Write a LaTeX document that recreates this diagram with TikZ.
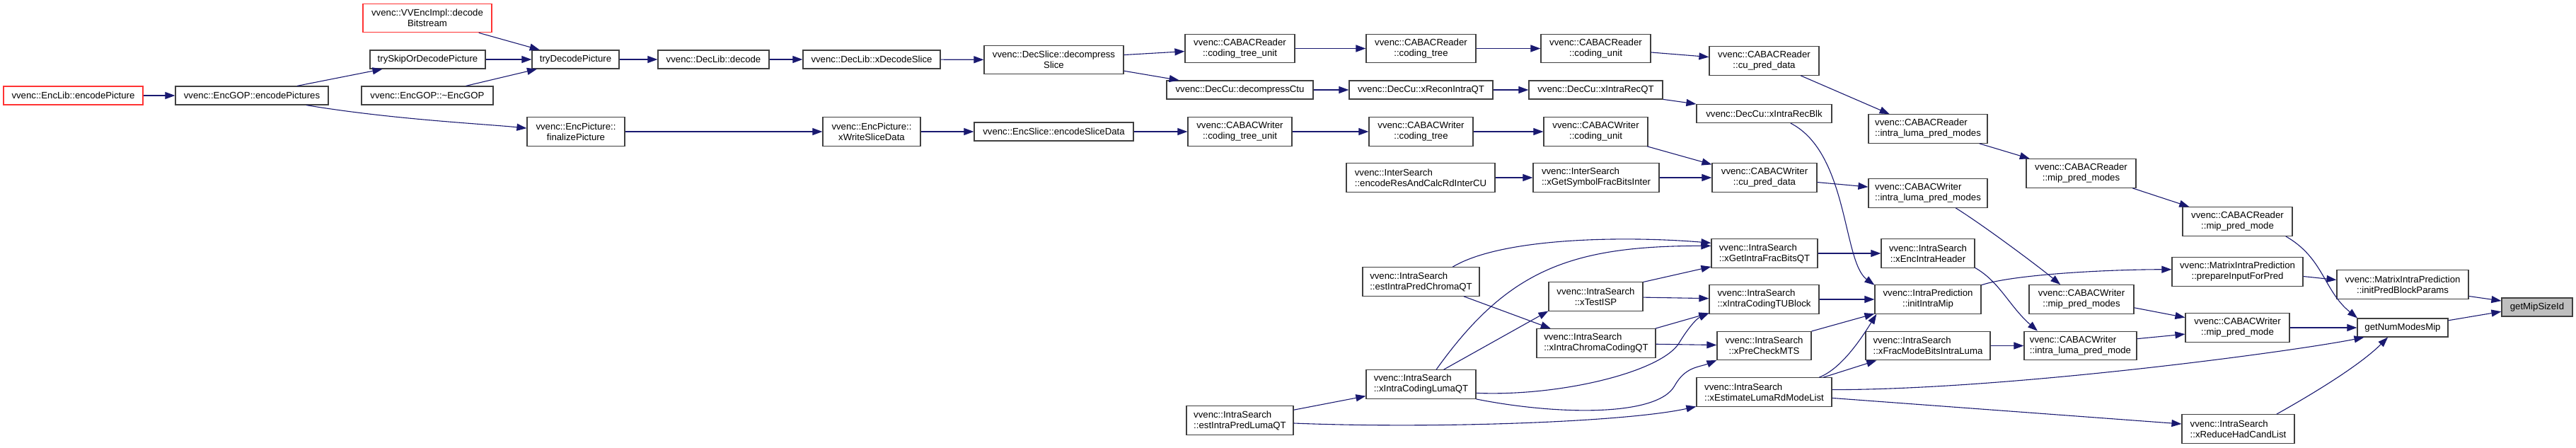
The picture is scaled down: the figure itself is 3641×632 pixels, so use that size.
\documentclass[tikz,border=0pt]{standalone}
\usepackage{fontspec}
\setmainfont{Liberation Sans}
\usepackage{xcolor}
\usepackage{tikz}
\usetikzlibrary{arrows.meta}
\definecolor{CGEdge}{HTML}{191970}
\definecolor{CGLine}{HTML}{404040}
\definecolor{CGRed}{HTML}{FF3333}
\definecolor{CGSel}{HTML}{BFBFBF}
\newcommand{\cgfont}{\fontsize{13.2}{15}\selectfont}

\begin{document}
\begin{tikzpicture}[x=1pt,y=-1pt,
  fn/.style={draw=CGLine,line width=1.2pt,fill=white,inner xsep=2pt,inner ysep=1pt,
    minimum height=26pt,font=\cgfont,align=center},
  fn2/.style={fn,minimum height=40.5pt},
  fnl/.style={fn2,align=left},
  cut/.style={draw=CGRed},
  sel/.style={fill=CGSel},
  call/.style={draw=CGEdge,line width=1.1pt,-{Triangle[length=14pt,width=10pt]}}]
\path[use as bounding box] (0,0) rectangle (3641,632);
\node[fn,cut,minimum width=197pt] (encPic) at (103.5,135) {vvenc::EncLib::encodePicture};
\node[fn,minimum width=216pt] (encPics) at (356,135) {vvenc::EncGOP::encodePictures};
\node[fn2,cut,minimum width=182pt] (decBits) at (604,25.5) {vvenc::VVEncImpl::decode\\Bitstream};
\node[fn,minimum width=163pt] (trySkip) at (604.5,84) {trySkipOrDecodePicture};
\node[fn,minimum width=186pt] (dtorGOP) at (604,135) {vvenc::EncGOP::\textasciitilde EncGOP};
\node[fn,minimum width=123pt] (tryDec) at (813.5,84) {tryDecodePicture};
\node[fn,minimum width=157pt] (decLib) at (1008.5,84) {vvenc::DecLib::decode};
\node[fn,minimum width=194pt] (xDecSlice) at (1232,84) {vvenc::DecLib::xDecodeSlice};
\node[fn2,minimum width=197pt] (decompSlice) at (1489.5,84.5) {vvenc::DecSlice::decompress\\Slice};
\node[fn2,minimum width=155pt] (rdCtu) at (1752.5,68.5) {vvenc::CABACReader\\::coding\_tree\_unit};
\node[fn,minimum width=207pt] (decompCtu) at (1752.5,127) {vvenc::DecCu::decompressCtu};
\node[fn2,minimum width=155pt] (rdTree) at (2008.5,68.5) {vvenc::CABACReader\\::coding\_tree};
\node[fn,minimum width=203pt] (reconQT) at (2008.5,127) {vvenc::DecCu::xReconIntraQT};
\node[fn2,minimum width=155pt] (rdUnit) at (2255.5,68.5) {vvenc::CABACReader\\::coding\_unit};
\node[fn,minimum width=189pt] (recQT) at (2255.5,127) {vvenc::DecCu::xIntraRecQT};
\node[fn2,minimum width=155pt] (rdCuPred) at (2493.5,86) {vvenc::CABACReader\\::cu\_pred\_data};
\node[fn,minimum width=191pt] (recBlk) at (2493.5,160.5) {vvenc::DecCu::xIntraRecBlk};
\node[fnl,minimum width=168pt] (rdLumaModes) at (2725,182) {vvenc::CABACReader\\::intra\_luma\_pred\_modes};
\node[fn2,minimum width=155pt] (rdMipModes) at (2941.5,245) {vvenc::CABACReader\\::mip\_pred\_modes};
\node[fn2,minimum width=155pt] (rdMipMode) at (3162.5,313) {vvenc::CABACReader\\::mip\_pred\_mode};
\node[fn2,minimum width=138pt] (finalPic) at (814,186) {vvenc::EncPicture::\\finalizePicture};
\node[fn2,minimum width=138pt] (writeSlice) at (1232,186) {vvenc::EncPicture::\\xWriteSliceData};
\node[fn,minimum width=225pt] (encSlice) at (1489.5,186) {vvenc::EncSlice::encodeSliceData};
\node[fn2,minimum width=147pt] (wrCtu) at (1752.5,186) {vvenc::CABACWriter\\::coding\_tree\_unit};
\node[fn2,minimum width=147pt] (wrTree) at (2008.5,186) {vvenc::CABACWriter\\::coding\_tree};
\node[fn2,minimum width=147pt] (wrUnit) at (2255.5,186) {vvenc::CABACWriter\\::coding\_unit};
\node[fnl,minimum width=210pt] (encRes) at (2008,251) {vvenc::InterSearch\\::encodeResAndCalcRdInterCU};
\node[fnl,minimum width=178pt] (symFrac) at (2256,251) {vvenc::InterSearch\\::xGetSymbolFracBitsInter};
\node[fn2,minimum width=148pt] (wrCuPred) at (2494,251) {vvenc::CABACWriter\\::cu\_pred\_data};
\node[fnl,minimum width=168pt] (wrLumaModes) at (2725,273) {vvenc::CABACWriter\\::intra\_luma\_pred\_modes};
\node[fnl,minimum width=150pt] (fracBitsQT) at (2494,358) {vvenc::IntraSearch\\::xGetIntraFracBitsQT};
\node[fn2,minimum width=132pt] (encHeader) at (2725,358) {vvenc::IntraSearch\\::xEncIntraHeader};
\node[fnl,minimum width=165pt] (estChroma) at (2008.5,398) {vvenc::IntraSearch\\::estIntraPredChromaQT};
\node[fn2,minimum width=133pt] (testISP) at (2255.5,419) {vvenc::IntraSearch\\::xTestISP};
\node[fnl,minimum width=155pt] (codingTU) at (2493.5,423) {vvenc::IntraSearch\\::xIntraCodingTUBlock};
\node[fn2,minimum width=150pt] (initMip) at (2725,423) {vvenc::IntraPrediction\\::initIntraMip};
\node[fn2,minimum width=148pt] (wrMipModes) at (2942,423) {vvenc::CABACWriter\\::mip\_pred\_modes};
\node[fnl,minimum width=168pt] (chromaQT) at (2256,485) {vvenc::IntraSearch\\::xIntraChromaCodingQT};
\node[fn2,minimum width=133pt] (preCheck) at (2493.5,488.5) {vvenc::IntraSearch\\::xPreCheckMTS};
\node[fnl,minimum width=176pt] (fracLuma) at (2725,488.5) {vvenc::IntraSearch\\::xFracModeBitsIntraLuma};
\node[fnl,minimum width=159pt] (wrLumaMode) at (2940.5,488.5) {vvenc::CABACWriter\\::intra\_luma\_pred\_mode};
\node[fn2,minimum width=147pt] (wrMipMode) at (3162.5,463) {vvenc::CABACWriter\\::mip\_pred\_mode};
\node[fn2,minimum width=185pt] (prepInput) at (3162.5,384) {vvenc::MatrixIntraPrediction\\::prepareInputForPred};
\node[fn2,minimum width=186pt] (initParams) at (3396,402) {vvenc::MatrixIntraPrediction\\::initPredBlockParams};
\node[fn,sel,minimum width=100pt] (mipSize) at (3586,434) {getMipSizeId};
\node[fn,minimum width=128pt] (numModes) at (3396,463) {getNumModesMip};
\node[fnl,minimum width=159pt] (reduceHad) at (3163.5,606) {vvenc::IntraSearch\\::xReduceHadCandList};
\node[fnl,minimum width=191pt] (lumaRd) at (2493.5,554) {vvenc::IntraSearch\\::xEstimateLumaRdModeList};
\node[fnl,minimum width=155pt] (lumaQT) at (2008.5,543) {vvenc::IntraSearch\\::xIntraCodingLumaQT};
\node[fnl,minimum width=151pt] (estLuma) at (1752.5,594) {vvenc::IntraSearch\\::estIntraPredLumaQT};
\draw[call] (encPic) -- (encPics);
\draw[call] (encPics.12) -- (trySkip.192);
\draw[call] (encPics.-10) .. controls +(120,20) and +(-60,-6) .. (finalPic.176);
\draw[call] (decBits.-16) -- (tryDec.165);
\draw[call] (trySkip) -- (tryDec);
\draw[call] (dtorGOP.14) -- (tryDec.194);
\draw[call] (tryDec) -- (decLib);
\draw[call] (decLib) -- (xDecSlice);
\draw[call] (xDecSlice) -- (decompSlice);
\draw[call] (decompSlice.4) -- (rdCtu.183);
\draw[call] (decompSlice.-9) -- (decompCtu.171);
\draw[call] (rdCtu) -- (rdTree);
\draw[call] (rdTree) -- (rdUnit);
\draw[call] (rdUnit.-4) -- (rdCuPred.176);
\draw[call] (decompCtu) -- (reconQT);
\draw[call] (reconQT) -- (recQT);
\draw[call] (recQT.-8) -- (recBlk.172);
\draw[call] (rdCuPred.-22) -- (rdLumaModes.159);
\draw[call] (rdLumaModes.-16) -- (rdMipModes.164);
\draw[call] (rdMipModes.-16.5) -- (rdMipMode.163.5);
\draw[call] (rdMipMode.-17) .. controls +(54,31) and +(-48,-39) .. (numModes.168);
\draw[call] (recBlk.-20) .. controls +(82,42) and +(-45,-33) .. (initMip.165);
\draw[call] (finalPic) -- (writeSlice);
\draw[call] (writeSlice) -- (encSlice);
\draw[call] (encSlice) -- (wrCtu);
\draw[call] (wrCtu) -- (wrTree);
\draw[call] (wrTree) -- (wrUnit);
\draw[call] (wrUnit.-16) -- (wrCuPred.166);
\draw[call] (encRes) -- (symFrac);
\draw[call] (symFrac) -- (wrCuPred);
\draw[call] (wrCuPred.-5) -- (wrLumaModes.174);
\draw[call] (wrLumaModes.-28) .. controls +(40,25) and +(-30,-25) .. (wrMipModes.145);
\draw[call] (encHeader.-17) .. controls +(35,20) and +(-40,-35) .. (wrLumaMode.161);
\draw[call] (fracBitsQT) -- (encHeader);
\draw[call] (codingTU) -- (initMip);
\draw[call] (preCheck.17) -- (initMip.195.5);
\draw[call] (lumaRd.15) .. controls +(30,-12) and +(-25,40) .. (initMip.196);
\draw[call] (lumaRd.14) -- (fracLuma.196);
\draw[call] (fracLuma) -- (wrLumaMode);
\draw[call] (initMip.15) .. controls +(45,-15) and +(-90,0) .. (prepInput.178);
\draw[call] (prepInput.-4) -- (initParams.176);
\draw[call] (initParams.-10) -- (mipSize.170);
\draw[call] (numModes.9) -- (mipSize.187);
\draw[call] (wrMipModes.-9) -- (wrMipMode.169);
\draw[call] (wrLumaMode.7) -- (wrMipMode.187);
\draw[call] (wrMipMode) -- (numModes);
\draw[call] (lumaRd.2) .. controls +(250,0) and +(-100,20) .. (numModes.194);
\draw[call] (lumaRd.-5) -- (reduceHad.175);
\draw[call] (reduceHad.21) .. controls +(50,-28) and +(-40,40) .. (numModes.213);
\draw[call] (estLuma.11) -- (lumaQT.192);
\draw[call] (estLuma.-3) .. controls +(200,8) and +(-100,22) .. (lumaRd.192);
\draw[call] (estChroma.25) .. controls +(70,-42) and +(-120,-10) .. (fracBitsQT.169);
\draw[call] (estChroma.-19) -- (chromaQT.162);
\draw[call] (lumaQT.44) .. controls +(100,-140) and +(-200,0) .. (fracBitsQT.172);
\draw[call] (lumaQT.33) -- (testISP.197.5);
\draw[call] (lumaQT.-9) .. controls +(120,5) and +(-25,40) .. (2373,485) .. controls +(12,-20) and +(-18,8) .. (codingTU.194.5);
\draw[call] (lumaQT.-15.5) .. controls +(110,22) and +(-25,45) .. (2367,545) .. controls +(15,-27) and +(-25,10) .. (preCheck.197.5);
\draw[call] (testISP.17) -- (fracBitsQT.194);
\draw[call] (testISP) -- (codingTU);
\draw[call] (chromaQT.14) -- (codingTU.194);
\draw[call] (chromaQT) -- (preCheck);
\end{tikzpicture}
\end{document}
